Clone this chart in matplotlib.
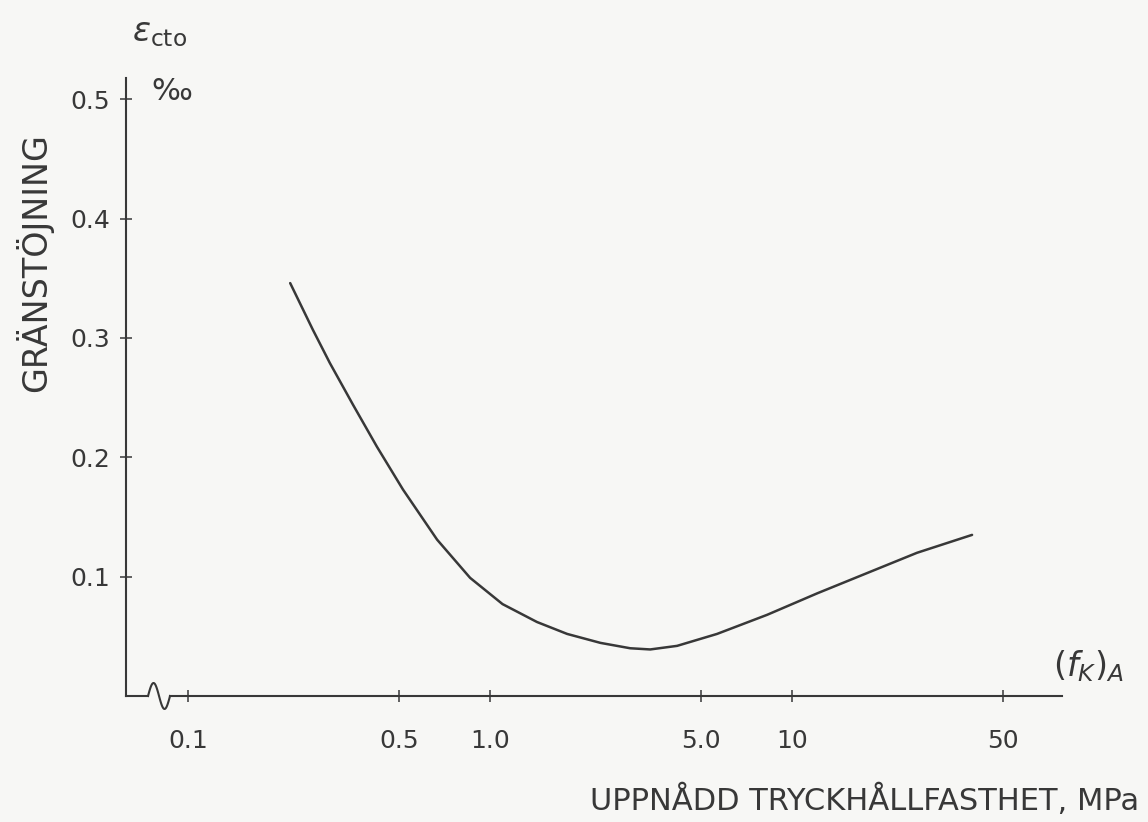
import numpy as np
import matplotlib.pyplot as plt

# strength (MPa) vs limit strain (per mille)
strength = [0.218, 0.259, 0.295, 0.352, 0.422, 0.515, 0.668, 0.859, 1.10, 1.43,
            1.80, 2.32, 2.91, 3.39, 4.16, 5.64, 8.26, 12.1, 17.7, 25.9, 39.4]
strain = [0.346, 0.307, 0.279, 0.244, 0.209, 0.173, 0.131, 0.099, 0.077, 0.062,
          0.052, 0.0445, 0.040, 0.039, 0.042, 0.052, 0.068, 0.086, 0.103, 0.120, 0.135]

xticks = [0.1, 0.5, 1.0, 5.0, 10, 50]
xticklabels = ['0.1', '0.5', '1.0', '5.0', '10', '50']
yticks = [0.1, 0.2, 0.3, 0.4, 0.5]
yticklabels = ['0.1', '0.2', '0.3', '0.4', '0.5']

ink = '#383838'
paper = '#f7f7f5'

fig = plt.figure(figsize=(11.48, 8.22), dpi=100, facecolor=paper)
ax = fig.add_axes([0.1098, 0.1533, 0.815, 0.752])
ax.set_facecolor(paper)

ax.plot(strength, strain, color=ink, lw=1.8, solid_capstyle='round',
        solid_joinstyle='round')

ax.set_xscale('log')
ax.set_xlim(0.0624, 78)
ax.set_ylim(0, 0.518)
ax.set_xticks(xticks)
ax.set_xticklabels(xticklabels)
ax.set_yticks(yticks)
ax.set_yticklabels(yticklabels)
ax.xaxis.set_minor_locator(plt.NullLocator())

for s in ['top', 'right', 'bottom']:
    ax.spines[s].set_visible(False)
ax.spines['left'].set_color(ink)
ax.spines['left'].set_linewidth(1.5)

ax.tick_params(axis='both', direction='inout', length=9, width=1.1, color=ink,
               labelcolor=ink, labelsize=18)
ax.tick_params(axis='x', pad=19)
ax.tick_params(axis='y', pad=7)

# x axis line with the break squiggle near the origin
a, b = 0.0235, 0.047
t = np.linspace(0, 1, 60)
ax.plot([0, a], [0, 0], color=ink, lw=1.5, transform=ax.transAxes, clip_on=False)
ax.plot(a + (b - a) * t, 0.021 * np.sin(2 * np.pi * t), color=ink, lw=1.5,
        transform=ax.transAxes, clip_on=False)
ax.plot([b, 1], [0, 0], color=ink, lw=1.5, transform=ax.transAxes, clip_on=False)

fig.text(0.139, 0.960, r'$\varepsilon_{\mathrm{cto}}$', fontsize=24, color=ink,
         ha='center', va='center')
fig.text(0.132, 0.889, '‰', fontsize=22, color=ink, ha='left', va='center')
fig.text(0.030, 0.680, 'GRÄNSTÖJNING', fontsize=24, color=ink, rotation=90,
         ha='center', va='center')
fig.text(0.948, 0.189, r'$(f_K)_A$', fontsize=24, color=ink, ha='center', va='center')
fig.text(0.753, 0.027, 'UPPNÅDD TRYCKHÅLLFASTHET, MPa', fontsize=22, color=ink,
         ha='center', va='center')

fig.savefig('out.png', dpi=100, facecolor=paper)
